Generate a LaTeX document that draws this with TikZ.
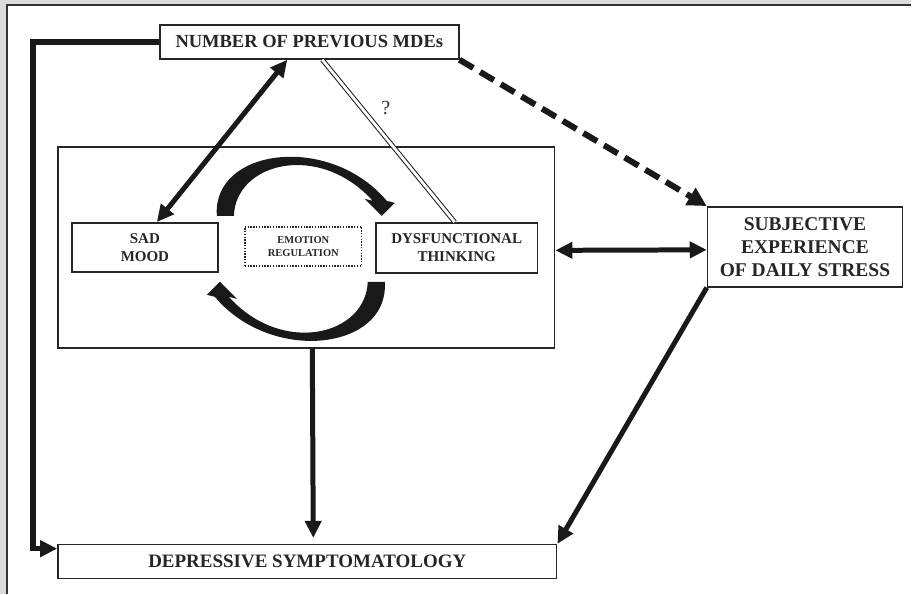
\documentclass[tikz,border=0pt]{standalone}
\usepackage{fontspec}
\setmainfont{Liberation Serif}
\usetikzlibrary{arrows.meta}
\tikzset{
      box/.style={draw=black!85, line width=1.6pt, fill=white,
      inner sep=0pt, align=center, text=black!85, font=\bfseries},
      link/.style={draw=black!90, line width=5pt, line join=miter},
      tip/.style={-{Triangle[length=17pt,width=16pt]}},
      bitip/.style={{Triangle[length=17pt,width=16pt]}-{Triangle[length=17pt,width=16pt]}},
      crescent/.style={fill=black!90}}
\begin{document}
\begin{tikzpicture}[x=1pt,y=-1pt]
          % page
          \fill[black!14] (0,0) rectangle (912,594);
          \fill[white] (7,5) rectangle (912,594);
          \draw[line width=1.2pt, black!80] (7,594) -- (7,5) -- (912,5);
          \useasboundingbox (0,0) rectangle (912,594);
          % nodes
          \node[box, minimum width=299pt, minimum height=34pt,
                font=\bfseries\fontsize{18.5}{20}\selectfont] (mde) at (309.5,42) {NUMBER OF PREVIOUS MDEs};
          \node[draw=black!85, line width=1.6pt, minimum width=497pt, minimum height=201pt] (frame) at (306.5,247.5) {};
          \node[box, minimum width=146pt, minimum height=49pt,
                font=\bfseries\fontsize{15}{18}\selectfont] (sad) at (145,247.5) {SAD\\MOOD};
          \node[box, line width=1.4pt, dash pattern=on 1.4pt off 1.4pt, minimum width=117pt, minimum height=39pt,
                font=\bfseries\fontsize{10.5}{13}\selectfont] (emo) at (303.5,246.5) {EMOTION\\REGULATION};
          \node[box, minimum width=162pt, minimum height=50pt,
                font=\bfseries\fontsize{15}{18}\selectfont] (dys) at (457,248) {DYSFUNCTIONAL\\THINKING};
          \node[box, minimum width=195pt, minimum height=80pt,
                font=\bfseries\fontsize{19.5}{23}\selectfont] (stress) at (805.5,247) {SUBJECTIVE\\EXPERIENCE\\OF DAILY STRESS};
          \node[box, minimum width=499pt, minimum height=34pt,
                font=\bfseries\fontsize{19}{20}\selectfont] (dep) at (307.5,562) {DEPRESSIVE SYMPTOMATOLOGY};
          \node[text=black!80, font=\fontsize{20}{20}\selectfont] (q) at (386,108) {?};
          \coordinate (bend) at (33,42);
          % regulation cycle
          \fill[crescent] (217,216) -- (234,216) .. controls (236,162) and (320,142) .. (373,201)
                -- (365,199) -- (382,216) -- (395,203) -- (387,201)
                .. controls (330,133) and (212,148) .. (217,216) -- cycle;
          \begin{scope}[rotate around={180:(301,249)}]
          \fill[crescent] (217,216) -- (234,216) .. controls (236,162) and (320,142) .. (373,201)
                -- (365,199) -- (382,216) -- (395,203) -- (387,201)
                .. controls (330,133) and (212,148) .. (217,216) -- cycle;
          \end{scope}
          % connectors
          \draw[link, line width=5.5pt, tip] (mde.west) -- (bend) |- ([yshift=13pt]dep.west);
          \draw[link, bitip] ([xshift=-22pt]mde.south) -- ([xshift=12pt]sad.north);
          \draw[black!90, line width=1pt, double=white, double distance=2.8pt]
                ([xshift=13pt]mde.south) -- ([xshift=-2pt]dys.north);
          \draw[link, line width=6pt, dash pattern=on 16pt off 8pt,
                -{Triangle[length=19pt,width=19pt]}] (mde.south east) -- (stress.north west);
          \draw[link, bitip] ([yshift=-3pt]frame.east) -- ([yshift=-3pt]stress.west);
          \draw[link, tip, shorten >=6pt] ([xshift=6pt]frame.south) -- ([xshift=6pt]dep.north);
          \draw[link, tip] (stress.south west) -- (dep.north east);
\end{tikzpicture}
\end{document}
